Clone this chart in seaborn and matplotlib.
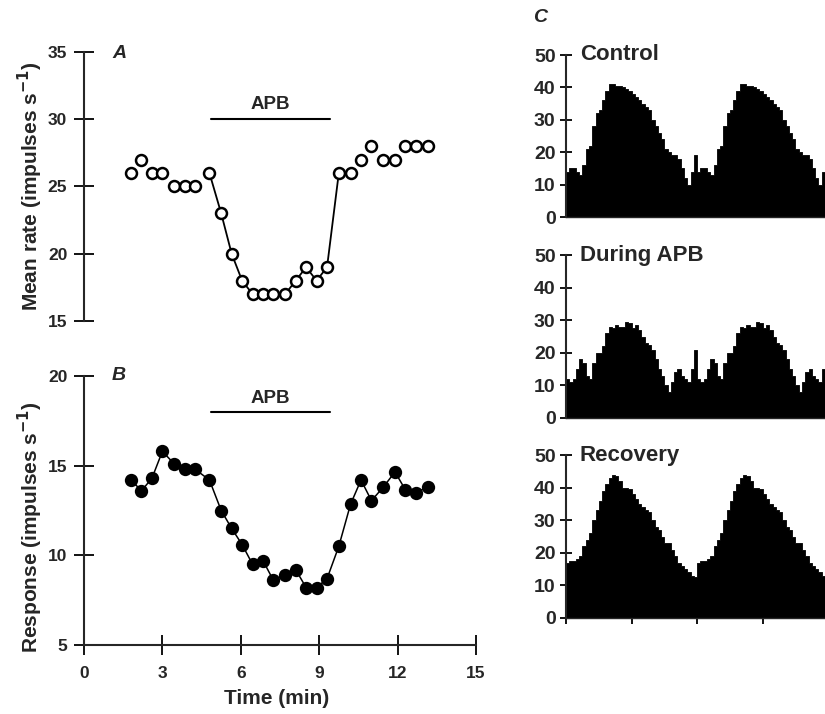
import numpy as np
import pandas as pd
import matplotlib
matplotlib.use("Agg")
import matplotlib.pyplot as plt
import seaborn as sns

sns.set_style("ticks")
plt.rcParams["font.family"] = ["Liberation Sans", "DejaVu Sans"]
plt.rcParams["font.weight"] = "bold"
plt.rcParams["mathtext.default"] = "bf"

# ── Data ──────────────────────────────────────────────────────────────────────
time_min = [1.8, 2.2, 2.6, 3.0, 3.45, 3.85, 4.25, 4.8, 5.25, 5.65, 6.05, 6.45, 6.85, 7.25,
            7.7, 8.1, 8.5, 8.9, 9.3, 9.75, 10.2, 10.6, 11.0, 11.45, 11.9, 12.3, 12.7, 13.15]
mean_rate = [26, 27, 26, 26, 25, 25, 25, 26, 23, 20, 18, 17, 17, 17,
             17, 18, 19, 18, 19, 26, 26, 27, 28, 27, 27, 28, 28, 28]
response = [14.2, 13.6, 14.3, 15.8, 15.1, 14.8, 14.8, 14.2, 12.5, 11.5, 10.6, 9.5, 9.7, 8.6,
            8.9, 9.2, 8.2, 8.2, 8.7, 10.5, 12.85, 14.2, 13.05, 13.8, 14.65, 13.65, 13.5, 13.8]
apb_start, apb_end = 4.85, 9.4

# one stimulus cycle of each histogram (the figure shows the cycle twice)
control_cycle = [14, 15, 15, 14, 13, 16, 21, 22, 28, 32, 33, 36, 39, 41, 41, 40.5, 40.5, 40, 39.5, 39,
                 38, 37, 36, 35, 34, 33, 30, 28, 26, 24, 21, 20, 19, 19, 18, 15, 12, 10, 14, 19]
apb_cycle = [12, 11, 12, 15, 18, 17, 13, 12, 17, 20, 20, 22, 26, 28, 27.5, 28.5, 28, 28, 29.5, 29,
             27.5, 28.5, 27, 25, 23, 22.5, 21, 18, 15, 13, 10, 8, 11, 14, 15, 13, 12, 11, 15, 21]
recovery_cycle = [17, 17.5, 17.5, 18, 19, 22, 24, 26, 30, 33, 36, 39, 41, 43, 44, 43.5, 42, 40, 40, 39.5,
                  38, 36.5, 35, 34, 33, 32.5, 30, 28, 27, 25, 23, 23, 21, 19, 17, 16, 15, 14, 13, 12.5]
hist_titles = ["Control", "During APB", "Recovery"]

W, H = 825, 714
fig = plt.figure(figsize=(W / 100, H / 100), dpi=100)


def px_axes(x0, y0, x1, y1):
    """Axes from pixel box (left, top, right, bottom)."""
    return fig.add_axes([x0 / W, 1 - y1 / H, (x1 - x0) / W, (y1 - y0) / H])


tick_kw = dict(direction="inout", length=14, width=1.3, labelsize=12.5, pad=5, color="black")

# ── A — mean rate ─────────────────────────────────────────────────────────────
axA = px_axes(84, 52, 476, 321)
dfA = pd.DataFrame({"t": time_min, "v": mean_rate})
sns.lineplot(data=dfA.iloc[7:20], x="t", y="v", color="black", lw=1.3, ax=axA)
sns.scatterplot(data=dfA, x="t", y="v", marker="o", s=62, facecolor="white",
                edgecolor="black", linewidth=1.8, zorder=3, ax=axA)
axA.set_xlim(0, 15)
axA.set_ylim(15, 35)
axA.set_yticks([15, 20, 25, 30, 35])
axA.set_xticks([])
for s in ["top", "right", "bottom"]:
    axA.spines[s].set_visible(False)
axA.spines["left"].set_linewidth(1.5)
axA.tick_params(axis="y", **tick_kw)
axA.plot([apb_start, apb_end], [30, 30], color="black", lw=1.5)
axA.text((apb_start + apb_end) / 2, 31.1, "APB", ha="center", va="center", fontsize=13.5)
axA.set_xlabel("")
axA.set_ylabel("")

# ── B — response ──────────────────────────────────────────────────────────────
axB = px_axes(84, 376, 476, 645)
dfB = pd.DataFrame({"t": time_min, "v": response})
sns.lineplot(data=dfB, x="t", y="v", color="black", lw=1.1, ax=axB)
sns.scatterplot(data=dfB, x="t", y="v", marker="o", s=92, color="black",
                edgecolor="black", linewidth=0, zorder=3, ax=axB)
axB.set_xlim(0, 15)
axB.set_ylim(5, 20)
axB.set_yticks([5, 10, 15, 20])
axB.set_xticks([0, 3, 6, 9, 12, 15])
for s in ["top", "right"]:
    axB.spines[s].set_visible(False)
axB.spines["left"].set_linewidth(1.5)
axB.spines["bottom"].set_linewidth(1.5)
axB.tick_params(axis="both", **tick_kw)
axB.tick_params(axis="x", pad=8)
axB.plot([apb_start, apb_end], [18, 18], color="black", lw=1.5)
axB.text((apb_start + apb_end) / 2, 18.75, "APB", ha="center", va="center", fontsize=13.5)
axB.set_xlabel("")
axB.set_ylabel("")

fig.text(277 / W, 1 - 699 / H, "Time (min)", ha="center", va="center", fontsize=15)
fig.text(30 / W, 1 - 186 / H, "Mean rate (impulses s$^{-1}$)", rotation=90,
         ha="center", va="center", fontsize=15)
fig.text(30 / W, 1 - 527 / H, "Response (impulses s$^{-1}$)", rotation=90,
         ha="center", va="center", fontsize=15)
fig.text(119 / W, 1 - 53 / H, "A", style="italic", ha="center", va="center", fontsize=14)
fig.text(119 / W, 1 - 376 / H, "B", style="italic", ha="center", va="center", fontsize=14)
fig.text(540 / W, 1 - 18 / H, "C", style="italic", ha="center", va="center", fontsize=14)

# ── C — histograms ────────────────────────────────────────────────────────────
n_bins = 2 * len(control_cycle)
bin_w = 4 / n_bins
centers = np.arange(n_bins) * bin_w + bin_w / 2
boxes = [(566, 55, 825, 217), (566, 255, 825, 418), (566, 455, 825, 618)]
cycles = [control_cycle, apb_cycle, recovery_cycle]
for i, (box, cyc, title) in enumerate(zip(boxes, cycles, hist_titles)):
    ax = px_axes(*box)
    dfH = pd.DataFrame({"phase": centers, "count": list(cyc) * 2})
    sns.histplot(data=dfH, x="phase", weights="count", binwidth=bin_w, binrange=(0, 4),
                 element="step", fill=True, color="black", alpha=1, linewidth=0.6, ax=ax)
    ax.set_xlim(0, 3.95)
    ax.set_ylim(0, 50)
    ax.set_yticks([0, 10, 20, 30, 40, 50])
    ax.set_ylabel("")
    ax.set_xlabel("")
    for s in ["top", "right"]:
        ax.spines[s].set_visible(False)
    ax.spines["left"].set_linewidth(1.5)
    ax.spines["bottom"].set_linewidth(1.0)
    ax.tick_params(axis="y", direction="inout", length=9, width=1.3, labelsize=14,
                   pad=3, color="black")
    if i == 2:
        ax.set_xticks([0, 1, 2, 3])
        ax.set_xticklabels([])
        ax.tick_params(axis="x", direction="out", length=4, width=1.3, color="black")
    else:
        ax.set_xticks([])
    ax.text(0.21, 50, title, ha="left", va="center", fontsize=16)

fig.savefig("out.png", dpi=100)
